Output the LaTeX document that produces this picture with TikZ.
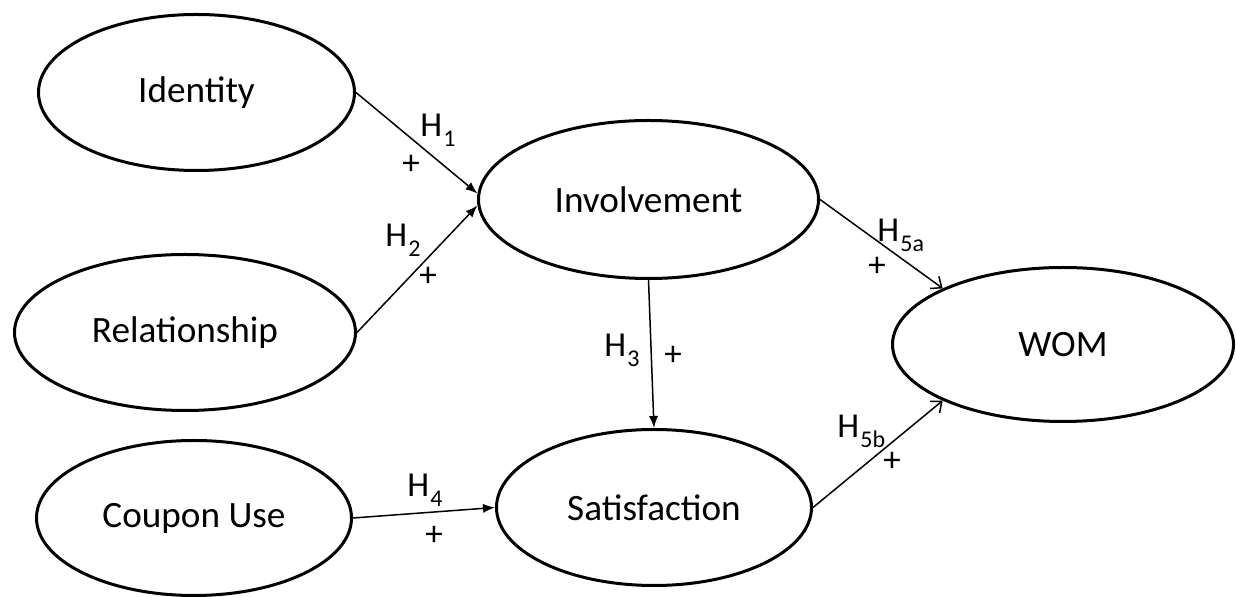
\documentclass[tikz,border=0pt]{standalone}
\usepackage{fontspec}
\setmainfont{Carlito}
\usetikzlibrary{shapes.geometric,arrows.meta}
\newcommand\hsb[1]{\kern0.6pt\raisebox{-5pt}{\fontsize{12}{12}\selectfont #1}}
\begin{document}
\begin{tikzpicture}[x=0.5pt,y=-0.5pt,
  construct/.style={ellipse,draw,line width=1.5pt,inner sep=0pt,font=\fontsize{18.6}{20}\selectfont},
  hyp/.style={anchor=base west,inner sep=0pt,font=\fontsize{17.5}{20}\selectfont},
  sign/.style={inner sep=0pt,font=\fontsize{17.5}{20}\selectfont},
  relpath/.style={line width=0.75pt,-{Latex[length=6pt,width=4.6pt]}},
  openpath/.style={line width=0.75pt,-{Straight Barb[length=4.5pt,width=7.5pt]}}]
\useasboundingbox (0,0) rectangle (1236,597);

\node[construct,minimum width=158pt,minimum height=78pt] (idn) at (196.5,92.5) {Identity};
\node[construct,minimum width=170.5pt,minimum height=78pt] (rel) at (185,332.5) {Relationship};
\node[construct,minimum width=157.5pt,minimum height=77.5pt] (cou) at (194,518) {Coupon Use};
\node[construct,minimum width=170pt,minimum height=79pt] (inv) at (648.5,199.5) {Involvement};
\node[construct,minimum width=157.5pt,minimum height=78pt] (sat) at (654,507.5) {Satisfaction};
\node[construct,minimum width=170.5pt,minimum height=77pt] (wom) at (1063,344.5) {WOM};

\draw[relpath] (idn.east) -- (inv.178);
\draw[relpath] (rel.east) -- (inv.182);
\draw[relpath] (inv.south) -- (sat.north);
\draw[relpath] (cou.east) -- (sat.west);
\draw[openpath] (inv.east) -- (wom.155);
\draw[openpath] (sat.east) -- (wom.205);

\node[hyp] (h1) at (420,137) {H\hsb{1}};
\node[sign] (p1) at (411,165) {+};
\node[hyp] (h2) at (385,247) {H\hsb{2}};
\node[sign] (p2) at (428,277) {+};
\node[hyp] (h3) at (604,357) {H\hsb{3}};
\node[sign] (p3) at (673,356) {+};
\node[hyp] (h4) at (407,497) {H\hsb{4}};
\node[sign] (p4) at (434,536) {+};
\node[hyp] (h5a) at (877,242) {H\hsb{5a}};
\node[sign] (p5a) at (877,267) {+};
\node[hyp] (h5b) at (837,438) {H\hsb{5b}};
\node[sign] (p5b) at (892,462) {+};
\end{tikzpicture}
\end{document}
